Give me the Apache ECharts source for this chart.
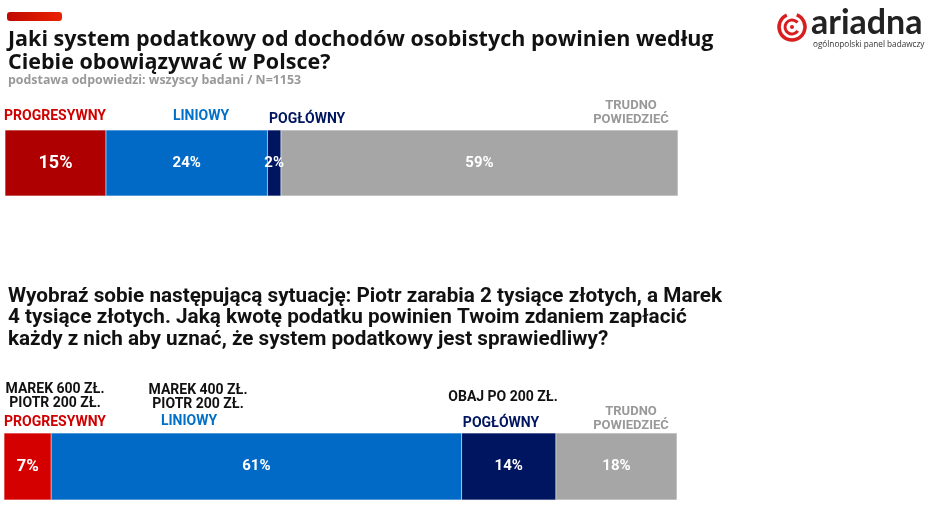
<!DOCTYPE html>
<html><head><meta charset="utf-8">
<script src="https://cdn.jsdelivr.net/npm/echarts@6/dist/echarts.min.js"></script>
<style>html,body{margin:0;padding:0;background:#fff}#c{width:933px;height:529px}</style>
</head><body><div id="c"></div>
<script>
// Data
const segments = ['PROGRESYWNY', 'LINIOWY', 'POGŁÓWNY', 'TRUDNO POWIEDZIEĆ'];
const q1Values = [15, 24, 2, 59];
const q2Values = [7, 61, 14, 18];
const q1Colors = ['#ae0000', '#006ac6', '#001560', '#a6a6a6'];
const q2Colors = ['#d40000', '#006ac6', '#001560', '#a6a6a6'];
const q1ValueFont = [18, 15, 15, 15];
const q2ValueFont = [17, 15, 15, 15];

const chart = echarts.init(document.getElementById('c'), null, {renderer: 'canvas'});

function makeSeries(values, colors, fonts, gi, stack) {
  return values.map((v, i) => ({
    name: segments[i],
    type: 'bar',
    stack: stack,
    xAxisIndex: gi, yAxisIndex: gi,
    barWidth: '100%',
    data: [v],
    itemStyle: {color: colors[i], borderColor: 'rgba(255,255,255,0.25)', borderWidth: 0.5},
    label: {show: true, position: 'inside', formatter: '{c}%', color: '#fff',
      fontFamily: 'Roboto', fontWeight: 'bold', fontSize: fonts[i]},
    silent: true
  }));
}

const F = 'Roboto';
const txt = (x, y, text, color, size, align, weight, family, lh) => ({
  type: 'text', x: x, y: y,
  style: {text: text, fill: color, font: (weight || 'bold') + ' ' + size + 'px "' + (family || F) + '"',
    textAlign: align || 'left', textVerticalAlign: 'middle', lineHeight: lh || size + 2}
});

chart.setOption({
  animation: false,
  grid: [
    {left: 5, width: 673, top: 130, height: 66},
    {left: 4, width: 673, top: 433, height: 67}
  ],
  xAxis: [
    {gridIndex: 0, type: 'value', min: 0, max: 100, show: false},
    {gridIndex: 1, type: 'value', min: 0, max: 100, show: false}
  ],
  yAxis: [
    {gridIndex: 0, type: 'category', data: ['Q1'], show: false},
    {gridIndex: 1, type: 'category', data: ['Q2'], show: false}
  ],
  series: makeSeries(q1Values, q1Colors, q1ValueFont, 0, 'a').concat(makeSeries(q2Values, q2Colors, q2ValueFont, 1, 'b')),
  graphic: [
    {type: 'rect', shape: {x: 7, y: 12, width: 55, height: 9, r: 3},
      style: {fill: new echarts.graphic.LinearGradient(0, 0, 1, 0, [{offset: 0, color: '#c00a00'}, {offset: 1, color: '#ea2200'}])}},
    {type: 'text', x: 8, y: 28, style: {text: 'Jaki system podatkowy od dochodów osobistych powinien według\nCiebie obowiązywać w Polsce?',
      fill: '#111', font: 'bold 21.5px "Open Sans"', lineHeight: 23}},
    {type: 'text', x: 8, y: 74, style: {text: 'podstawa odpowiedzi: wszyscy badani / N=1153', fill: '#999', font: 'bold 12.4px "Open Sans"'}},
    {type: 'text', x: 8, y: 286, style: {text: 'Wyobraź sobie następującą sytuację: Piotr zarabia 2 tysiące złotych, a Marek\n4 tysiące złotych. Jaką kwotę podatku powinien Twoim zdaniem zapłacić\nkażdy z nich aby uznać, że system podatkowy jest sprawiedliwy?',
      fill: '#111', font: 'bold 20.7px "Roboto"', lineHeight: 21.5}},
    // top labels
    txt(4, 116, 'PROGRESYWNY', '#d00000', 14),
    txt(201, 116, 'LINIOWY', '#0070c8', 14, 'center'),
    txt(269, 119, 'POGŁÓWNY', '#001560', 14),
    txt(631, 113, 'TRUDNO\nPOWIEDZIEĆ', '#999', 13, 'center', 'bold', F, 14),
    // bottom labels
    txt(55, 396, 'MAREK 600 ZŁ.\nPIOTR 200 ZŁ.', '#111', 14, 'center', 'bold', F, 14),
    txt(4, 422, 'PROGRESYWNY', '#d00000', 14),
    txt(198, 397, 'MAREK 400 ZŁ.\nPIOTR 200 ZŁ.', '#111', 14, 'center', 'bold', F, 14),
    txt(189, 421, 'LINIOWY', '#0070c8', 14, 'center'),
    txt(503, 397, 'OBAJ PO 200 ZŁ.', '#111', 14, 'center'),
    txt(501, 423, 'POGŁÓWNY', '#001560', 14, 'center'),
    txt(631, 419, 'TRUDNO\nPOWIEDZIEĆ', '#999', 13, 'center', 'bold', F, 14),
    // logo
    {type: 'arc', shape: {cx: 792, cy: 27, r: 13, startAngle: -1.2, endAngle: 4.3}, style: {stroke: '#d81e1e', lineWidth: 3.5, fill: null}},
    {type: 'arc', shape: {cx: 792, cy: 27, r: 7, startAngle: 0.6, endAngle: 5.6}, style: {stroke: '#d81e1e', lineWidth: 3, fill: null}},
    {type: 'circle', shape: {cx: 792, cy: 27, r: 2}, style: {fill: '#d81e1e'}},
    {type: 'text', x: 811, y: 6, style: {text: 'ariadna', fill: '#222', font: 'bold 34px "Lato"'}},
    {type: 'text', x: 813, y: 41, style: {text: 'ogólnopolski panel badawczy', fill: '#333', font: '8.2px "Open Sans"'}}
  ]
});
</script></body></html>
